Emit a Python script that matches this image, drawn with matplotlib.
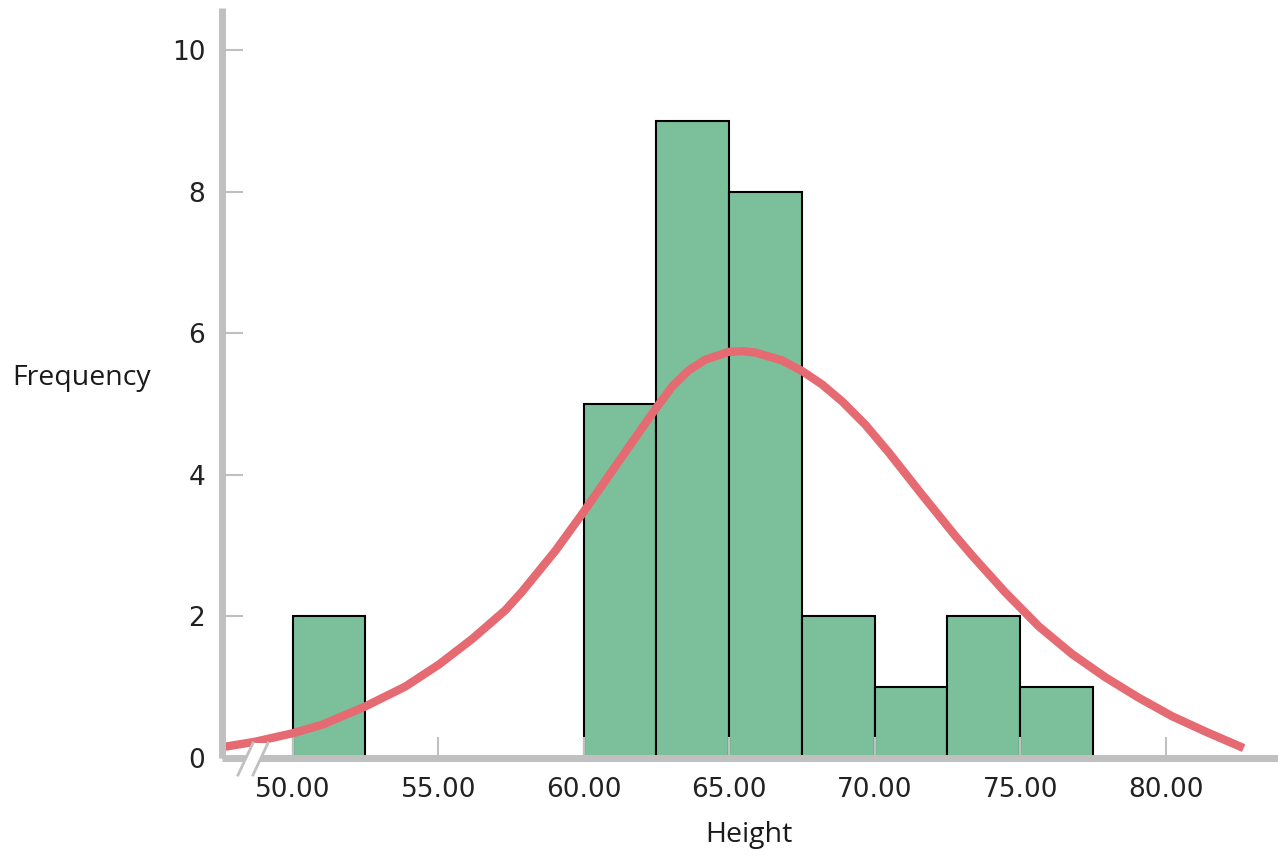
import matplotlib
matplotlib.use("Agg")
import matplotlib.pyplot as plt
from matplotlib.lines import Line2D
from matplotlib.patches import Polygon

# histogram bins (left edge) and counts
bin_left = [50.0, 60.0, 62.5, 65.0, 67.5, 70.0, 72.5, 75.0]
counts = [2, 5, 9, 8, 2, 1, 2, 1]
bin_width = 2.5

# normal curve
curve_x = [47.68, 48.71, 50.00, 51.01, 52.50, 53.87, 55.02, 56.16, 57.31, 57.88,
           59.03, 60.00, 61.32, 62.46, 63.04, 63.61, 64.18, 64.98, 65.45, 65.90,
           66.81, 67.50, 68.19, 68.88, 69.68, 70.48, 71.63, 72.77, 73.35, 74.49,
           75.64, 76.78, 77.93, 79.08, 80.22, 81.36, 82.68]
curve_y = [0.16, 0.23, 0.35, 0.47, 0.73, 1.01, 1.32, 1.68, 2.09, 2.35,
           2.93, 3.48, 4.26, 4.93, 5.25, 5.48, 5.63, 5.74, 5.75, 5.73,
           5.62, 5.47, 5.28, 5.04, 4.71, 4.32, 3.72, 3.14, 2.86, 2.34,
           1.86, 1.47, 1.14, 0.85, 0.59, 0.375, 0.14]

x_ticks = [50, 55, 60, 65, 70, 75, 80]
y_ticks = [0, 2, 4, 6, 8, 10]

grey = '#c0c0c0'
bar_color = '#7cc09b'
curve_color = '#e56a72'

W, H = 1278, 857
fig = plt.figure(figsize=(W / 100, H / 100), dpi=100)
ax = fig.add_axes([222 / W, 1 - 758 / H, 1 - 222 / W, (758 - 8) / H])

ax.bar(bin_left, counts, width=bin_width, align='edge', color=bar_color,
       edgecolor='black', linewidth=1.5, zorder=1)
ax.plot(curve_x, curve_y, color=curve_color, linewidth=6,
        solid_capstyle='butt', solid_joinstyle='round', zorder=2)

ax.set_xlim(47.57, 83.86)
ax.set_ylim(0, 10.6)

for side in ['top', 'right']:
    ax.spines[side].set_visible(False)
for side in ['left', 'bottom']:
    ax.spines[side].set_color(grey)
    ax.spines[side].set_linewidth(5)
    ax.spines[side].set_capstyle('butt')

ax.set_xticks(x_ticks)
ax.set_xticklabels(['{:.2f}'.format(v) for v in x_ticks])
ax.set_yticks(y_ticks)
ax.tick_params(axis='both', direction='in', length=15, width=1.5, color=grey,
               labelsize=19, labelcolor='#222222')
ax.tick_params(axis='x', pad=14)
ax.tick_params(axis='y', pad=12)

fig.text(12 / W, 1 - 378 / H, 'Frequency', ha='left', va='center',
         fontsize=20.5, family='Open Sans', color='#1a1a1a')
fig.text(749 / W, 1 - 835 / H, 'Height', ha='center', va='center',
         fontsize=20.5, family='Open Sans', color='#1a1a1a')

# axis break on the x axis
def fx(px):
    return px / W

def fy(py):
    return 1 - py / H

gap = Polygon([(fx(238), fy(775)), (fx(253), fy(743)), (fx(268), fy(743)), (fx(253), fy(775))],
              closed=True, transform=fig.transFigure, facecolor='white', edgecolor='none', zorder=10)
fig.patches.append(gap)
for off in [0, 15]:
    fig.lines.append(Line2D([fx(238 + off), fx(253 + off)], [fy(775), fy(743)],
                            transform=fig.transFigure, color=grey, linewidth=2, zorder=11))

fig.savefig('out.png', dpi=100)
